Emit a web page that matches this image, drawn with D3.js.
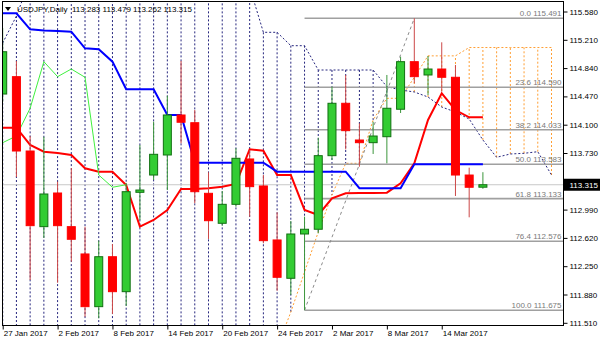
<!DOCTYPE html>
<html><head><meta charset="utf-8">
<script src="https://cdn.jsdelivr.net/npm/d3@7"></script>
<style>body{margin:0;background:#fff}svg{display:block}</style>
</head><body><svg id="c" width="600" height="343"></svg>
<script>
// ---- data ----
const title = "USDJPY,Daily";
const lastOHLC = ["113.283", "113.479", "113.262", "113.315"];
const dates = ["27 Jan","30 Jan","31 Jan","1 Feb","2 Feb","3 Feb","6 Feb","7 Feb","8 Feb","9 Feb","10 Feb","13 Feb","14 Feb","15 Feb","16 Feb","17 Feb","20 Feb","21 Feb","22 Feb","23 Feb","24 Feb","27 Feb","28 Feb","1 Mar","2 Mar","3 Mar","6 Mar","7 Mar","8 Mar","9 Mar","10 Mar","13 Mar","14 Mar","15 Mar","16 Mar","17 Mar"];
const open  = [114.501,114.728,113.756,112.767,113.207,112.767,112.410,111.721,112.374,111.917,113.216,113.442,113.704,114.227,114.126,113.203,112.811,113.059,113.652,113.299,112.593,112.092,112.671,112.733,113.695,114.380,113.900,113.865,113.943,114.302,114.924,114.750,114.828,114.720,113.442,113.283];
const high  = [115.364,114.933,113.952,113.943,113.355,113.534,112.767,112.584,112.540,113.338,113.835,114.139,114.479,114.933,114.292,113.478,113.233,113.792,113.769,113.442,112.955,112.841,112.897,113.930,114.597,114.750,114.118,114.139,114.750,114.989,115.491,114.998,115.177,114.881,113.538,113.479];
const low   = [114.397,113.416,112.070,112.619,112.034,112.309,111.590,111.569,111.625,111.730,112.854,113.377,113.246,113.857,113.073,112.606,112.780,113.028,112.897,112.550,111.930,111.874,111.675,112.680,113.639,113.778,113.551,113.717,113.595,114.253,114.641,114.488,114.532,113.168,112.889,113.262];
const close = [115.054,113.756,112.780,113.194,112.780,112.602,111.721,112.374,111.917,113.224,113.246,113.713,114.227,114.132,113.224,112.845,113.059,113.661,113.290,112.584,112.105,112.671,112.733,113.695,114.380,114.022,113.865,113.952,114.315,114.924,114.728,114.828,114.720,113.442,113.282,113.315];
const tenkan = [114.061,114.061,113.835,113.747,113.730,113.704,113.530,113.486,113.486,113.312,112.767,112.854,112.985,113.260,113.260,113.269,113.290,113.325,113.779,113.760,113.442,113.442,112.985,112.920,113.138,113.203,113.207,113.207,113.211,113.334,113.595,114.162,114.511,114.292,114.197,114.197];
const kijun = [115.556,115.556,115.347,115.332,115.325,115.316,115.099,115.086,114.924,114.563,114.563,114.563,114.227,114.227,113.603,113.603,113.603,113.603,113.603,113.603,113.486,113.486,113.486,113.486,113.486,113.486,113.269,113.269,113.269,113.269,113.583,113.583,113.583,113.583,113.583,113.583];
const chikou = [113.865,113.952,114.315,114.924,114.728,114.828,114.720,113.442,113.282,113.315];
// senkou spans, bars 0..40 (5 bars beyond the last candle)
const spanA = [115.168,115.521,116.0,116.1,116.2,116.2,116.2,116.2,116.2,116.1,116.0,116.0,116.0,116.0,116.0,116.0,116.0,116.0,115.9,115.308,115.308,115.133,115.133,114.815,114.815,114.815,114.815,114.815,114.597,114.554,114.528,114.462,114.331,114.266,114.174,113.900,113.674,113.717,113.726,113.747,113.442];
const spanB = [110.9,110.9,110.9,110.9,110.9,110.9,110.9,110.9,110.9,110.9,110.9,110.9,110.9,110.9,110.9,110.9,110.9,110.9,110.9,110.9,111.186,111.650,112.174,112.697,113.181,113.595,113.595,114.162,114.445,114.445,114.720,115.000,115.000,115.000,115.109,115.109,115.109,115.109,115.109,115.109,115.109];
const priceTicks = [115.580,115.210,114.840,114.470,114.100,113.730,113.360,112.990,112.620,112.250,111.880,111.510];
const dateTickIdx = [0,4,8,12,16,20,24,28,32];
const dateTickLabels = ["27 Jan 2017","2 Feb 2017","8 Feb 2017","14 Feb 2017","20 Feb 2017","24 Feb 2017","2 Mar 2017","8 Mar 2017","14 Mar 2017"];
const fibLevels = ["0.0","23.6","38.2","50.0","61.8","76.4","100.0"];
const fibPrices = [115.491,114.590,114.033,113.583,113.133,112.576,111.675];
const fibFrom = 22, fibTo = 30;   // bar indices of the swing low / high
const bid = 113.315;

// ---- layout ----
const svg = d3.select("#c");
const P = {l:2.5, r:563.5, t:1.5, b:325.5};
const x = d3.scaleLinear().domain([0,40]).range([2.7, 2.7 + 13.72*40]);
const y = d3.scaleLinear().domain([111.51,115.58]).range([322.8,11.5]);
const FONT = "'Liberation Sans', Arial, sans-serif";

svg.append("rect").attr("width",600).attr("height",343).attr("fill","#fff");
svg.append("defs").append("clipPath").attr("id","clip")
  .append("rect").attr("x",P.l).attr("y",P.t).attr("width",P.r-P.l).attr("height",P.b-P.t);
const g = svg.append("g").attr("clip-path","url(#clip)");

// cloud histogram
const NAVY = "#26267e", ORANGE = "#ff9e33";
spanA.forEach((a,i)=>{
  const b = spanB[i];
  g.append("line").attr("x1",x(i)).attr("x2",x(i)).attr("y1",y(a)).attr("y2",y(b))
    .attr("stroke", a>=b ? NAVY : ORANGE).attr("stroke-width",1).attr("stroke-dasharray","2,2");
});
const idx = d => d[0];
const lineGen = d3.line().x(d=>x(d[0])).y(d=>y(d[1]));
const pairs = arr => arr.map((v,i)=>[i,v]);
g.append("path").attr("d",lineGen(pairs(spanA))).attr("fill","none").attr("stroke",NAVY).attr("stroke-width",1).attr("stroke-dasharray","2,2");
g.append("path").attr("d",lineGen(pairs(spanB))).attr("fill","none").attr("stroke",ORANGE).attr("stroke-width",1).attr("stroke-dasharray","2,2");

// bid line
g.append("line").attr("x1",P.l).attr("x2",P.r).attr("y1",y(bid)).attr("y2",y(bid)).attr("stroke","#c8c8c8").attr("stroke-width",1);

// fibonacci
fibPrices.forEach((p,i)=>{
  g.append("line").attr("x1",x(fibFrom)).attr("x2",P.r).attr("y1",y(p)).attr("y2",y(p))
    .attr("stroke","#a0a0a0").attr("stroke-width",1.6);
  g.append("text").attr("x",561.5).attr("y",y(p)-2).attr("text-anchor","end")
    .attr("font-family",FONT).attr("font-size",8).attr("fill","#7a7a7a")
    .text(fibLevels[i]+" "+p.toFixed(3));
});
g.append("line").attr("x1",x(fibFrom)).attr("y1",y(fibPrices[6])).attr("x2",x(fibTo)).attr("y2",y(fibPrices[0]))
  .attr("stroke","#8a8a8a").attr("stroke-width",1).attr("stroke-dasharray","3,3");

// indicator lines
g.append("path").attr("d",lineGen(pairs(tenkan))).attr("fill","none").attr("stroke","#ff0000").attr("stroke-width",2);
g.append("path").attr("d",lineGen(pairs(kijun))).attr("fill","none").attr("stroke","#0000ff").attr("stroke-width",2);
g.append("path").attr("d",lineGen(pairs(chikou))).attr("fill","none").attr("stroke","#40f040").attr("stroke-width",1);

// candles
close.forEach((c,i)=>{
  const o = open[i], up = c >= o;
  g.append("line").attr("x1",x(i)).attr("x2",x(i)).attr("y1",y(high[i])).attr("y2",y(low[i]))
    .attr("stroke", up ? "#3c963c" : "#cc4848").attr("stroke-width",1);
  const top = y(Math.max(o,c)), bot = y(Math.min(o,c));
  g.append("rect").attr("x",x(i)-4).attr("width",8).attr("y",top).attr("height",Math.max(bot-top,1))
    .attr("fill", up ? "#33cc33" : "#ff0000").attr("stroke", up ? "#107010" : "#ff0000").attr("stroke-width",1);
});

// frame
svg.append("rect").attr("x",P.l).attr("y",P.t).attr("width",P.r-P.l).attr("height",P.b-P.t)
  .attr("fill","none").attr("stroke","#000").attr("stroke-width",1);

// axes
const ay = svg.append("g").attr("transform",`translate(${P.r},0)`)
  .call(d3.axisRight(y).tickValues(priceTicks).tickSize(4).tickFormat(d3.format(".3f")));
ay.select(".domain").remove();
ay.selectAll("text").attr("font-family",FONT).attr("font-size",8).attr("fill","#000").attr("x",6);
ay.selectAll("line").attr("stroke","#000");

const ax = svg.append("g").attr("transform",`translate(0,${P.b})`)
  .call(d3.axisBottom(x).tickValues(dateTickIdx).tickSize(4).tickFormat((d,i)=>dateTickLabels[i]));
ax.select(".domain").remove();
ax.selectAll("text").attr("font-family",FONT).attr("font-size",8).attr("fill","#000")
  .attr("text-anchor","start").attr("x",0.5).attr("y",5);
ax.selectAll("line").attr("stroke","#000");

// current price box
svg.append("rect").attr("x",564).attr("y",y(bid)-6).attr("width",36).attr("height",12).attr("fill","#000");
svg.append("text").attr("x",569.5).attr("y",y(bid)).attr("dy","0.35em").attr("font-family",FONT)
  .attr("font-size",8).attr("fill","#fff").text(bid.toFixed(3));

// title
svg.append("path").attr("d","M5,7 L11,7 L8,11 Z").attr("fill","#000");
svg.append("text").attr("x",17).attr("y",12).attr("font-family",FONT).attr("font-size",8).attr("fill","#000")
  .attr("xml:space","preserve").text(title + "  " + lastOHLC.join(" "));
</script></body></html>
